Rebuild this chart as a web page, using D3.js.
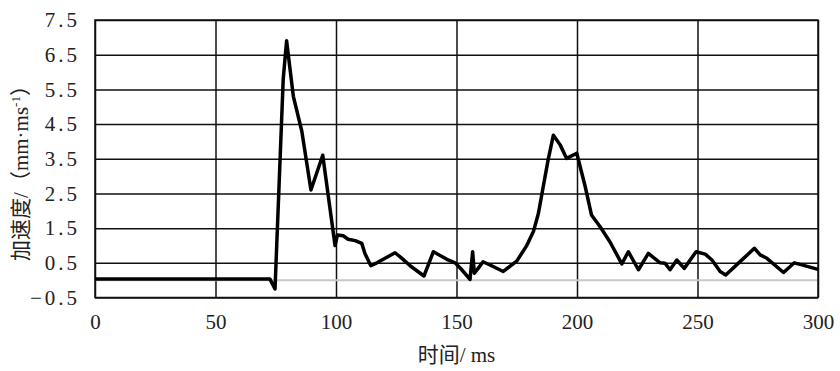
<!DOCTYPE html>
<html>
<head>
<meta charset="utf-8">
<script src="https://cdn.jsdelivr.net/npm/d3@7"></script>
<style>
  body { margin: 0; background: #fff; }
  text { font-family: "Liberation Serif", "Noto Sans CJK SC", serif; fill: #222; }
</style>
</head>
<body>
<div id="chart"></div>
<script>
// time (ms) and acceleration values
var time = [0, 72.6, 74.7, 78.1, 79.5, 82.3, 85.8, 89.6, 94.5, 99.6, 100.6, 103, 105, 108, 110.7, 112, 114.4, 117,
  124.5, 127, 131, 136.5, 140.4, 146, 149.4, 152.2, 155.6, 156.7, 157.4, 159, 161, 165, 169.4, 175, 179, 182, 184,
  186, 188, 190.2, 193, 195.7, 199.9, 203.4, 206, 209.6, 213.7, 218.6, 221.3, 225.5, 229.6, 234.5, 236.5, 238.6,
  241.4, 244.5, 249.4, 253.2, 256, 259.4, 261.7, 267, 273.6, 276, 278.8, 285.7, 290.2, 293.3, 300];
var accel = [0.03, 0.03, -0.25, 5.8, 6.9, 5.3, 4.3, 2.6, 3.6, 1.0, 1.3, 1.28, 1.18, 1.14, 1.06, 0.77, 0.42, 0.5,
  0.79, 0.65, 0.4, 0.12, 0.82, 0.6, 0.5, 0.3, 0.02, 0.82, 0.2, 0.34, 0.53, 0.4, 0.25, 0.55, 0.98, 1.42, 1.93,
  2.7, 3.46, 4.18, 3.9, 3.51, 3.66, 2.7, 1.88, 1.54, 1.1, 0.47, 0.82, 0.3, 0.77, 0.5, 0.49, 0.3,
  0.58, 0.34, 0.82, 0.75, 0.58, 0.25, 0.15, 0.49, 0.92, 0.73, 0.63, 0.22, 0.5, 0.44, 0.31];
var xTicks = [0, 50, 100, 150, 200, 250, 300];
var yTicks = [-0.5, 0.5, 1.5, 2.5, 3.5, 4.5, 5.5, 6.5, 7.5];

var margin = { top: 20, right: 22, bottom: 73.5, left: 95 };
var width = 840 - margin.left - margin.right;
var height = 371 - margin.top - margin.bottom;

var svg = d3.select('#chart')
  .append('svg')
  .attr('width', 840)
  .attr('height', 371);

var g = svg.append('g')
  .attr('transform', 'translate(' + margin.left + ',' + margin.top + ')');

var xScale = d3.scaleLinear().domain([0, 300]).range([0, width]);
var yScale = d3.scaleLinear().domain([-0.5, 7.5]).range([height, 0]);

// grid + tick labels
var axisX = d3.axisBottom(xScale)
  .tickValues(xTicks)
  .tickSize(-height)
  .tickPadding(17)
  .tickFormat(d3.format('d'));

var axisY = d3.axisLeft(yScale)
  .tickValues(yTicks)
  .tickSize(-width)
  .tickPadding(15)
  .tickFormat(function (d) { return d < 0 ? '\u2212' + Math.abs(d).toFixed(1) : d.toFixed(1); });

g.append('g')
  .attr('class', 'axisX')
  .attr('transform', 'translate(0,' + height + ')')
  .call(axisX);

g.append('g')
  .attr('class', 'axisY')
  .call(axisY);

g.selectAll('.domain').remove();
g.selectAll('.tick line').attr('stroke', '#111').attr('stroke-width', 1.5);
g.selectAll('.tick text').style('font-size', '21px').attr('fill', '#222');
g.selectAll('.axisY .tick text').style('letter-spacing', '3px');

// zero line
g.append('line')
  .attr('x1', 0)
  .attr('x2', width)
  .attr('y1', yScale(0))
  .attr('y2', yScale(0))
  .attr('stroke', '#c8c8c8')
  .attr('stroke-width', 2);

// border
g.append('rect')
  .attr('width', width)
  .attr('height', height)
  .attr('fill', 'none')
  .attr('stroke', '#111')
  .attr('stroke-width', 1.5);

// data line
var line = d3.line()
  .x(function (d) { return xScale(d[0]); })
  .y(function (d) { return yScale(d[1]); });

g.append('path')
  .attr('d', line(d3.zip(time, accel)))
  .attr('fill', 'none')
  .attr('stroke', '#000')
  .attr('stroke-width', 3.5)
  .attr('stroke-linejoin', 'round');

// axis titles
svg.append('text')
  .attr('x', margin.left + width / 2)
  .attr('y', 362)
  .attr('text-anchor', 'middle')
  .style('font-size', '21px')
  .text('时间/ ms');

var yt = svg.append('text')
  .attr('transform', 'translate(28,168) rotate(-90)')
  .attr('text-anchor', 'middle')
  .style('font-size', '21px');
yt.append('tspan').text('加速度/（mm·ms');
yt.append('tspan').attr('dy', -8).style('font-size', '13px').text('-1');
yt.append('tspan').attr('dy', 8).text('）');
</script>
</body>
</html>
